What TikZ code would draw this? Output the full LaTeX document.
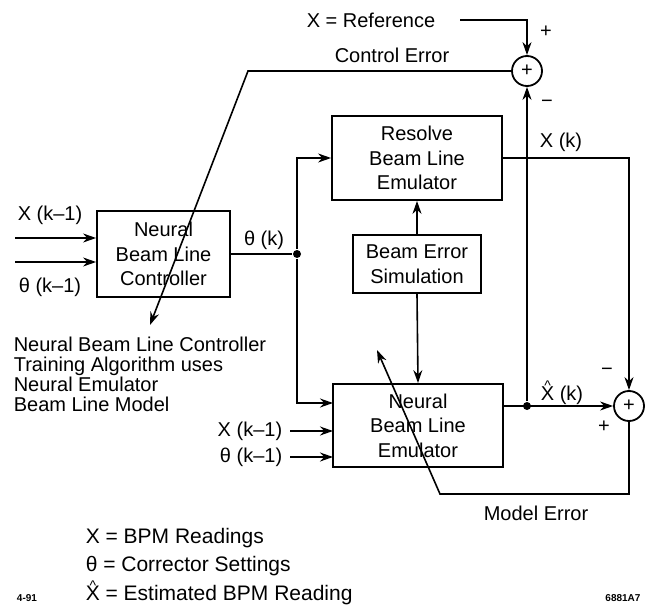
\documentclass[tikz,border=0pt]{standalone}
\usepackage{fontspec}
\setmainfont{Liberation Sans}
\usetikzlibrary{arrows.meta}
\newcommand{\hatX}{\leavevmode\setbox0\hbox{X}\hbox to \wd0{\hss\raisebox{0.5em}{\fontsize{14}{14}\selectfont\char"005E}\hss}\kern-\wd0 X}
\begin{document}
\begin{tikzpicture}[x=1pt,y=-1pt,
  line width=1.6pt,
  >={Stealth[length=13pt,width=9pt]},
  box/.style={draw,line width=1.8pt,align=center,inner sep=0pt,font=\fontsize{20}{24.5}\selectfont},
  lbl/.style={inner sep=0pt,font=\fontsize{20}{24}\selectfont},
  leg/.style={inner sep=0pt,anchor=west,font=\fontsize{21}{24}\selectfont},
  tiny/.style={inner sep=0pt,font=\bfseries\fontsize{10}{10}\selectfont},
  sumnode/.style={draw,circle,minimum size=30pt,inner sep=0pt,line width=1.8pt,font=\fontsize{20}{20}\selectfont},
  dotnode/.style={circle,fill,inner sep=0pt,minimum size=8pt}]
\useasboundingbox (0,0) rectangle (651,607);

% blocks
\node[box,minimum width=170pt,minimum height=84pt] (R) at (417,158) {Resolve\\Beam Line\\Emulator};
\node[box,minimum width=128pt,minimum height=58pt] (B) at (417,264) {Beam Error\\Simulation};
\node[box,minimum width=170pt,minimum height=83pt] (E) at (418,425.5) {Neural\\Beam Line\\Emulator};
\node[box,minimum width=133pt,minimum height=86pt] (C) at (163.5,254) {Neural\\Beam Line\\Controller};
\node[sumnode] (S1) at (527,71) {+};
\node[sumnode] (S2) at (629,406) {+};
\node[dotnode] (J) at (297,254) {};
\node[dotnode] (D) at (527,406) {};

% coordinates
\coordinate (refstart) at (460,20);
\coordinate (refcorner) at (527,20);
\coordinate (ce) at (248,71);
\coordinate (cetip) at (150,325);
\coordinate (e1) at (333,403);
\coordinate (xs) at (290,431);
\coordinate (xe) at (333,431);
\coordinate (ts) at (290,457);
\coordinate (te) at (333,457);
\coordinate (in1) at (15,238);
\coordinate (in2) at (15,262);
\coordinate (xk) at (629,158);
\coordinate (me1) at (629,494);
\coordinate (me2) at (440,494);
\coordinate (metip) at (377,350);

% connectors
\draw[->] (refstart) -- (refcorner) -- (S1.north);
\draw[->] (S1.west) -- (ce) -- (cetip);
\draw[->] (D) -- (S1.south);
\draw (C.east) -- (J);
\draw[->] (J) |- (R.west);
\draw[->] (J) |- (e1);
\draw[->] (xs) -- (xe);
\draw[->] (ts) -- (te);
\draw[->] (in1) -- (C.west |- in1);
\draw[->] (in2) -- (C.west |- in2);
\draw[->] (R.east) -- (xk) -- (S2.north);
\draw[->] (E.east |- D) -- (S2.west);
\draw[->] (S2.south) -- (me1) -- (me2) -- (metip);
\draw[->] (B.north) -- (R.south);
\draw[->] (B.south) -- (E.north);

% labels
\node[lbl] (reflbl) at (371,20) {X = Reference};
\node[lbl] (celbl) at (392,55) {Control Error};
\node[lbl] (p1) at (546,32) {+};
\node[lbl] (m1) at (547,104) {−};
\node[lbl] (xklbl) at (561,142) {X (k)};
\node[lbl] (thklbl) at (264,240) {θ (k)};
\node[lbl] (xk1lbl) at (50,215) {X (k–1)};
\node[lbl] (tk1lbl) at (50,287) {θ (k–1)};
\node[lbl,anchor=east] (xk1b) at (283,431) {X (k–1)};
\node[lbl,anchor=east] (tk1b) at (283,457) {θ (k–1)};
\node[lbl] (xhlbl) at (562,393) {\hatX\ (k)};
\node[lbl] (m2) at (607,372) {−};
\node[lbl] (p2) at (604,427) {+};
\node[lbl] (melbl) at (536,513) {Model Error};
\node[lbl,anchor=north west,align=left,font=\fontsize{20}{20}\selectfont] (note) at (13,336)
  {Neural Beam Line Controller\\Training Algorithm uses\\Neural Emulator\\Beam Line Model};

% legend
\node[leg] (leg1) at (85,538) {X = BPM Readings};
\node[leg] (leg2) at (85,566) {θ = Corrector Settings};
\node[leg] (leg3) at (85,593) {\hatX\ = Estimated BPM Reading};
\node[tiny] (date) at (27,598) {4-91};
\node[tiny] (fig) at (623,598) {6881A7};
\end{tikzpicture}
\end{document}
